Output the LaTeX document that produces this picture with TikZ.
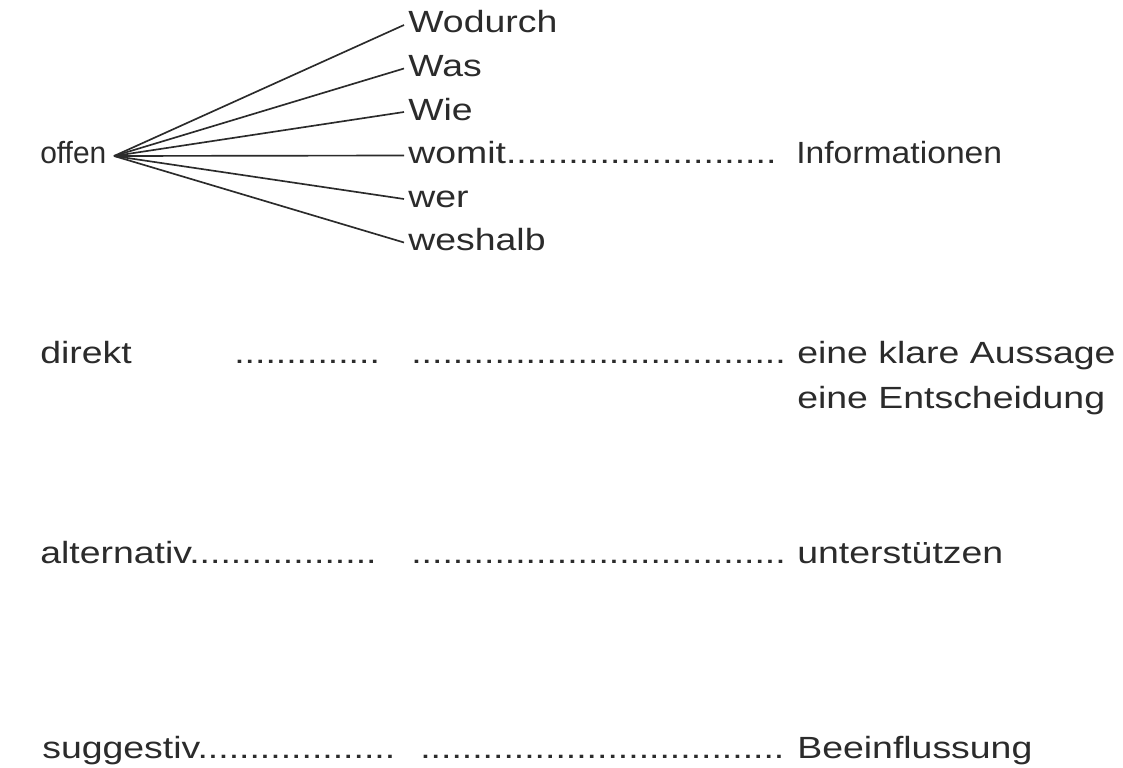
\documentclass[tikz,border=0pt]{standalone}
\usepackage{fontspec}
\setmainfont{Liberation Sans}
\usetikzlibrary{calc}
\definecolor{ink}{HTML}{2B2B2B}
\newcommand\dotrun[1]{\foreach\i in {1,...,#1}{.}}
\begin{document}
\begin{tikzpicture}[x=0.75pt,y=-0.75pt,
  txt/.style={font=\fontsize{23}{27}\selectfont, text=ink, inner sep=0pt,
              anchor=base west, xscale=1.22, transform shape},
  fan/.style={draw=ink, line width=1.25pt}]
\useasboundingbox (0,0) rectangle (1123,767);
% offen block
\node[txt, xscale=0.8] (offen) at (40,163) {offen};
\coordinate (hub) at (114,156);
\node[txt] (w1) at (408,33) {Wodurch};
\node[txt] (w2) at (408,76.5) {Was};
\node[txt] (w3) at (408,120) {Wie};
\node[txt] (w4) at (408,163.5) {womit\dotrun{26}};
\node[txt] (w5) at (408,207) {wer};
\node[txt] (w6) at (408,250.5) {weshalb};
\node[txt, xscale=0.9] (info) at (796,163.5) {Informationen};
\foreach \n in {w1,w2,w3,w4,w5,w6}
  \draw[fan] (hub) -- ($(\n.base west)+(-4,-8)$);
% direkt
\node[txt] (direkt) at (40,363) {direkt};
\node[txt] (d1) at (234,363) {\dotrun{14}};
\node[txt] (d2) at (411,363) {\dotrun{36}};
\node[txt] (klar) at (797,363) {eine klare Aussage};
\node[txt] (entsch) at (797,408) {eine Entscheidung};
% alternativ
\node[txt] (alt) at (40,563) {alternativ\dotrun{18}};
\node[txt] (a2) at (411,563) {\dotrun{36}};
\node[txt] (unter) at (797,563) {unterstützen};
% suggestiv
\node[txt] (sugg) at (42,758) {suggestiv\dotrun{19}};
\node[txt] (s2) at (420,758) {\dotrun{35}};
\node[txt] (beein) at (797,758) {Beeinflussung};
\end{tikzpicture}
\end{document}
